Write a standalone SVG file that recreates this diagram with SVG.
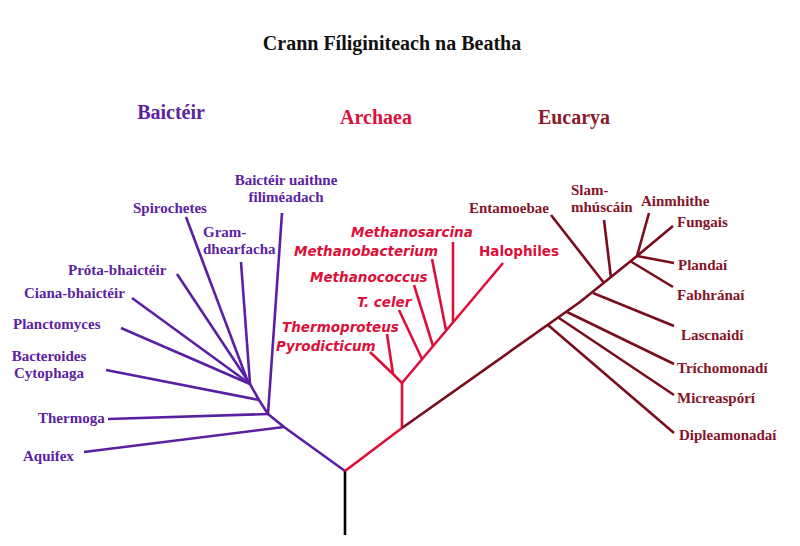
<svg xmlns="http://www.w3.org/2000/svg" width="800" height="546" viewBox="0 0 800 546">
<style>
.serif{font-family:"Liberation Serif","Times New Roman",serif;font-weight:bold}
.sans{font-family:"DejaVu Sans","Liberation Sans",sans-serif;font-weight:bold}
.lbl{font-size:15px}
.arc{font-size:13.5px;font-style:italic;fill:#dc1038}
.bac{fill:#5b22a2}
.euk{fill:#84142a}
.head{font-size:20px}
.ln{fill:none;stroke-width:2.6;stroke-linejoin:round}
.lb{stroke:#5a1fa3}
.la{stroke:#dc1038}
.le{stroke:#7a0c1e}
</style>
<rect width="800" height="546" fill="#fff"/>

<g id="title"><text class="serif head" x="392" y="50" text-anchor="middle" fill="#111">Crann Fíliginiteach na Beatha</text></g>
<g id="head-bacteria"><text class="serif head bac" x="171" y="119" text-anchor="middle" fill="#6226a8">Baictéir</text></g>
<g id="head-archaea"><text class="serif head" x="376" y="124" text-anchor="middle" fill="#dc1038">Archaea</text></g>
<g id="head-eukarya"><text class="serif head" x="574" y="124" text-anchor="middle" fill="#8a1a2c">Eucarya</text></g>

<g id="connectors">
  <line x1="345" y1="471" x2="345" y2="535" stroke="#000" class="ln"/>
  <!-- bacteria -->
  <polyline class="ln lb" points="345,471 284,427 268,414 259,400 250,384"/>
  <line class="ln lb" x1="284" y1="427" x2="84" y2="452"/>
  <line class="ln lb" x1="268" y1="414" x2="108" y2="419"/>
  <line class="ln lb" x1="268" y1="414" x2="282" y2="213"/>
  <line class="ln lb" x1="259" y1="400" x2="106" y2="370"/>
  <line class="ln lb" x1="250" y1="384" x2="121" y2="328"/>
  <line class="ln lb" x1="250" y1="384" x2="132" y2="298"/>
  <line class="ln lb" x1="250" y1="384" x2="177" y2="274"/>
  <line class="ln lb" x1="248" y1="382" x2="186" y2="217"/>
  <line class="ln lb" x1="250" y1="384" x2="241" y2="262"/>
  <!-- archaea -->
  <polyline class="ln la" points="345,471 402,428 402,383"/>
  <polyline class="ln la" points="402,383 393,374 370,352"/>
  <line class="ln la" x1="393" y1="374" x2="387" y2="334"/>
  <line class="ln la" x1="402" y1="383" x2="503" y2="263"/>
  <line class="ln la" x1="422" y1="359" x2="399" y2="310"/>
  <line class="ln la" x1="433" y1="346" x2="414" y2="285"/>
  <line class="ln la" x1="446" y1="330" x2="432" y2="259"/>
  <line class="ln la" x1="453" y1="322" x2="453" y2="242"/>
  <!-- eukarya -->
  <polyline class="ln le" points="402,428 580,302 637,256 673,226"/>
  <line class="ln le" x1="637" y1="256" x2="649" y2="213"/>
  <line class="ln le" x1="637" y1="256" x2="674" y2="263"/>
  <line class="ln le" x1="630" y1="261" x2="673" y2="287"/>
  <line class="ln le" x1="611" y1="278" x2="604" y2="220"/>
  <line class="ln le" x1="604" y1="283" x2="551" y2="215"/>
  <line class="ln le" x1="593" y1="293" x2="674" y2="326"/>
  <line class="ln le" x1="567" y1="312" x2="674" y2="364"/>
  <line class="ln le" x1="559" y1="318" x2="674" y2="395"/>
  <line class="ln le" x1="548" y1="325" x2="674" y2="433"/>
</g>

<g id="aquifex"><text class="serif lbl bac" x="23" y="461">Aquifex</text></g>
<g id="thermoga"><text class="serif lbl bac" x="38" y="423">Thermoga</text></g>
<g id="bacteroides"><text class="serif lbl bac" x="49" y="361" text-anchor="middle">Bacteroides</text><text class="serif lbl bac" x="49" y="378" text-anchor="middle">Cytophaga</text></g>
<g id="planctomyces"><text class="serif lbl bac" x="13" y="329">Planctomyces</text></g>
<g id="ciana"><text class="serif lbl bac" x="24" y="298">Ciana-bhaictéir</text></g>
<g id="prota"><text class="serif lbl bac" x="68" y="275">Próta-bhaictéir</text></g>
<g id="spirochetes"><text class="serif lbl bac" x="133" y="213">Spirochetes</text></g>
<g id="gram"><text class="serif lbl bac" x="203" y="237">Gram-</text><text class="serif lbl bac" x="203" y="254">dhearfacha</text></g>
<g id="uaithne"><text class="serif lbl bac" x="286" y="185" text-anchor="middle">Baictéir uaithne</text><text class="serif lbl bac" x="286" y="202" text-anchor="middle">filiméadach</text></g>

<g id="pyrodicticum"><text class="sans arc" x="276" y="351">Pyrodicticum</text></g>
<g id="thermoproteus"><text class="sans arc" x="282" y="332">Thermoproteus</text></g>
<g id="tceler"><text class="sans arc" x="357" y="307">T. celer</text></g>
<g id="methanococcus"><text class="sans arc" x="310" y="282">Methanococcus</text></g>
<g id="methanobacterium"><text class="sans arc" x="294" y="256">Methanobacterium</text></g>
<g id="methanosarcina"><text class="sans arc" x="351" y="237">Methanosarcina</text></g>
<g id="halophiles"><text class="sans" x="479" y="256" font-size="13.5" fill="#dc1038">Halophiles</text></g>

<g id="entamoebae"><text class="serif lbl euk" x="469" y="213">Entamoebae</text></g>
<g id="slam"><text class="serif lbl euk" x="571" y="195">Slam-</text><text class="serif lbl euk" x="571" y="212">mhúscáin</text></g>
<g id="ainmhithe"><text class="serif lbl euk" x="641" y="206">Ainmhithe</text></g>
<g id="fungais"><text class="serif lbl euk" x="677" y="227">Fungais</text></g>
<g id="plandai"><text class="serif lbl euk" x="678" y="270">Plandaí</text></g>
<g id="fabhranai"><text class="serif lbl euk" x="677" y="300">Fabhránaí</text></g>
<g id="lascnaidi"><text class="serif lbl euk" x="681" y="340">Lascnaidí</text></g>
<g id="trichomonadi"><text class="serif lbl euk" x="677" y="373">Tríchomonadí</text></g>
<g id="micreaspori"><text class="serif lbl euk" x="677" y="403">Micreaspórí</text></g>
<g id="dipleamonadai"><text class="serif lbl euk" x="679" y="440">Dipleamonadaí</text></g>
</svg>
